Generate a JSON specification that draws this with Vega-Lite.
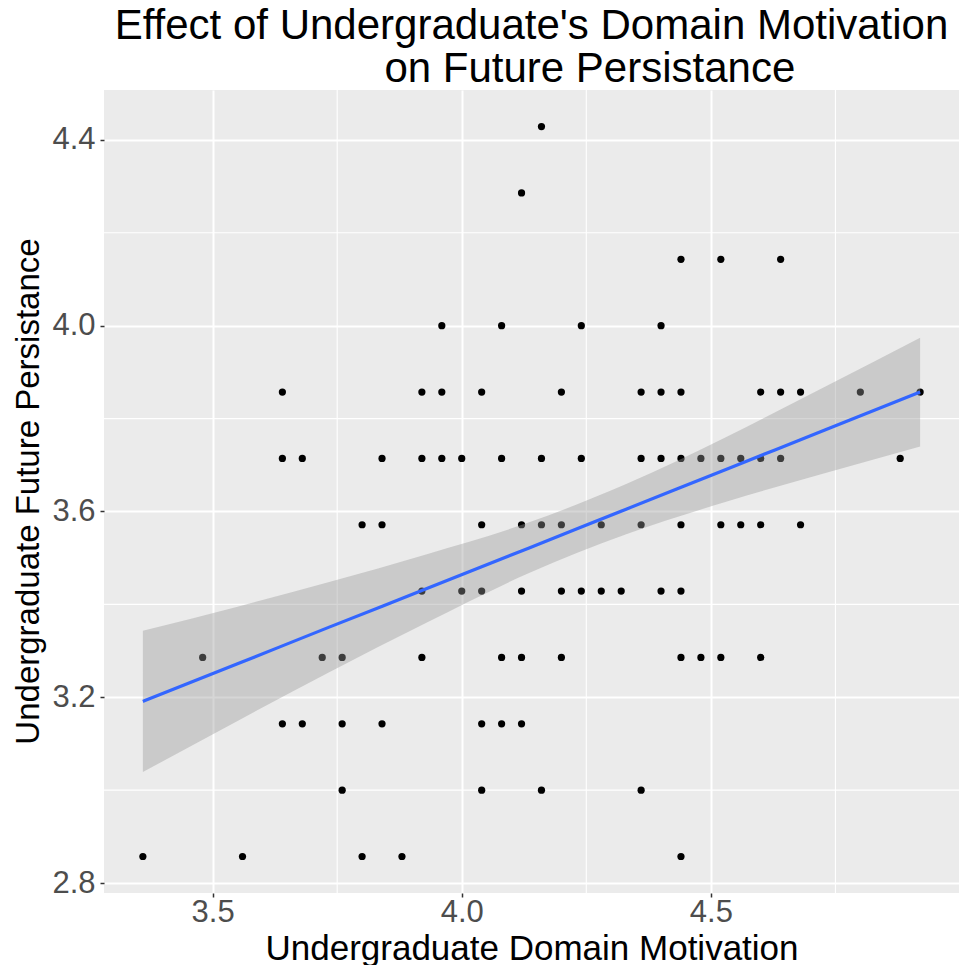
{
  "$schema": "https://vega.github.io/schema/vega-lite/v6.json",
  "width": 855,
  "height": 803,
  "autosize": {"type": "none"},
  "padding": {"left": 104, "top": 90, "right": 0, "bottom": 72},
  "background": "white",
  "config": {
    "view": {"fill": "#EBEBEB", "stroke": null},
    "font": "Liberation Sans"
  },
  "title": {
    "text": ["Effect of Undergraduate's Domain Motivation", "\u200b\u00a0\u200b\u00a0\u200b\u00a0\u200b\u00a0\u200b\u00a0\u200b\u00a0\u200b\u00a0\u200b\u00a0\u200b\u00a0\u200b\u00a0on Future Persistance"],
    "fontSize": 42,
    "font": "Liberation Sans",
    "fontWeight": "normal",
    "color": "black",
    "anchor": "middle",
    "frame": "group",
    "lineHeight": 43,
    "offset": -2
  },
  "datasets": {
    "pts": [
      {"x": 4.16, "y": 4.428571},
      {"x": 4.12, "y": 4.285714},
      {"x": 4.44, "y": 4.142857}, {"x": 4.52, "y": 4.142857}, {"x": 4.64, "y": 4.142857},
      {"x": 3.96, "y": 4.0}, {"x": 4.08, "y": 4.0}, {"x": 4.24, "y": 4.0}, {"x": 4.40, "y": 4.0},
      {"x": 3.64, "y": 3.857143}, {"x": 3.92, "y": 3.857143}, {"x": 3.96, "y": 3.857143}, {"x": 4.04, "y": 3.857143},
      {"x": 4.20, "y": 3.857143}, {"x": 4.36, "y": 3.857143}, {"x": 4.40, "y": 3.857143}, {"x": 4.44, "y": 3.857143},
      {"x": 4.60, "y": 3.857143}, {"x": 4.64, "y": 3.857143}, {"x": 4.68, "y": 3.857143}, {"x": 4.80, "y": 3.857143},
      {"x": 4.92, "y": 3.857143},
      {"x": 3.64, "y": 3.714286}, {"x": 3.68, "y": 3.714286}, {"x": 3.84, "y": 3.714286}, {"x": 3.92, "y": 3.714286},
      {"x": 3.96, "y": 3.714286}, {"x": 4.00, "y": 3.714286}, {"x": 4.08, "y": 3.714286}, {"x": 4.16, "y": 3.714286},
      {"x": 4.24, "y": 3.714286}, {"x": 4.36, "y": 3.714286}, {"x": 4.40, "y": 3.714286}, {"x": 4.44, "y": 3.714286},
      {"x": 4.48, "y": 3.714286}, {"x": 4.52, "y": 3.714286}, {"x": 4.56, "y": 3.714286}, {"x": 4.60, "y": 3.714286},
      {"x": 4.64, "y": 3.714286}, {"x": 4.88, "y": 3.714286},
      {"x": 3.80, "y": 3.571429}, {"x": 3.84, "y": 3.571429}, {"x": 4.04, "y": 3.571429}, {"x": 4.12, "y": 3.571429},
      {"x": 4.16, "y": 3.571429}, {"x": 4.20, "y": 3.571429}, {"x": 4.28, "y": 3.571429}, {"x": 4.36, "y": 3.571429},
      {"x": 4.44, "y": 3.571429}, {"x": 4.52, "y": 3.571429}, {"x": 4.56, "y": 3.571429}, {"x": 4.60, "y": 3.571429},
      {"x": 4.68, "y": 3.571429},
      {"x": 3.92, "y": 3.428571}, {"x": 4.00, "y": 3.428571}, {"x": 4.04, "y": 3.428571}, {"x": 4.12, "y": 3.428571},
      {"x": 4.20, "y": 3.428571}, {"x": 4.24, "y": 3.428571}, {"x": 4.28, "y": 3.428571}, {"x": 4.32, "y": 3.428571},
      {"x": 4.40, "y": 3.428571}, {"x": 4.44, "y": 3.428571},
      {"x": 3.48, "y": 3.285714}, {"x": 3.72, "y": 3.285714}, {"x": 3.76, "y": 3.285714}, {"x": 3.92, "y": 3.285714},
      {"x": 4.08, "y": 3.285714}, {"x": 4.12, "y": 3.285714}, {"x": 4.20, "y": 3.285714}, {"x": 4.44, "y": 3.285714},
      {"x": 4.48, "y": 3.285714}, {"x": 4.52, "y": 3.285714}, {"x": 4.60, "y": 3.285714},
      {"x": 3.64, "y": 3.142857}, {"x": 3.68, "y": 3.142857}, {"x": 3.76, "y": 3.142857}, {"x": 3.84, "y": 3.142857},
      {"x": 4.04, "y": 3.142857}, {"x": 4.08, "y": 3.142857}, {"x": 4.12, "y": 3.142857},
      {"x": 3.76, "y": 3.0}, {"x": 4.04, "y": 3.0}, {"x": 4.16, "y": 3.0}, {"x": 4.36, "y": 3.0},
      {"x": 3.36, "y": 2.857143}, {"x": 3.56, "y": 2.857143}, {"x": 3.80, "y": 2.857143}, {"x": 3.88, "y": 2.857143},
      {"x": 4.44, "y": 2.857143}
    ],
    "fit": [
      {"x": 3.36, "y": 3.191, "lo": 3.039, "hi": 3.343},
      {"x": 3.55, "y": 3.272, "lo": 3.149, "hi": 3.395},
      {"x": 3.734, "y": 3.351, "lo": 3.254, "hi": 3.448},
      {"x": 3.93, "y": 3.434, "lo": 3.361, "hi": 3.508},
      {"x": 4.134, "y": 3.521, "lo": 3.467, "hi": 3.576},
      {"x": 4.33, "y": 3.605, "lo": 3.551, "hi": 3.659},
      {"x": 4.534, "y": 3.692, "lo": 3.622, "hi": 3.762},
      {"x": 4.73, "y": 3.776, "lo": 3.683, "hi": 3.869},
      {"x": 4.92, "y": 3.857, "lo": 3.740, "hi": 3.974}
    ],
    "minx": [{"x": 3.75}, {"x": 4.25}, {"x": 4.75}],
    "miny": [{"y": 3.0}, {"y": 3.4}, {"y": 3.8}, {"y": 4.2}]
  },
  "layer": [
    {
      "data": {"name": "minx"},
      "mark": {"type": "rule", "color": "white", "strokeWidth": 1.1},
      "encoding": {
        "x": {
          "field": "x", "type": "quantitative",
          "scale": {"domain": [3.282, 4.998], "nice": false, "zero": false},
          "axis": {
            "title": "Undergraduate Domain Motivation",
            "values": [3.5, 4.0, 4.5], "format": ".1f",
            "grid": true, "gridColor": "white", "gridWidth": 2,
            "domain": false,
            "ticks": true, "tickColor": "#333333", "tickSize": 4, "tickWidth": 1.5,
            "labelFontSize": 31, "labelColor": "#4D4D4D", "labelPadding": 0, "labelFont": "Liberation Sans", "labelFlush": false,
            "titleFontSize": 35, "titleColor": "black", "titleFontWeight": "normal", "titleFont": "Liberation Sans",
            "titleBaseline": "alphabetic", "titleY": 66
          }
        }
      }
    },
    {
      "data": {"name": "miny"},
      "mark": {"type": "rule", "color": "white", "strokeWidth": 1.1},
      "encoding": {
        "y": {
          "field": "y", "type": "quantitative",
          "scale": {"domain": [2.7786, 4.5074], "nice": false, "zero": false},
          "axis": {
            "title": "Undergraduate Future Persistance",
            "values": [2.8, 3.2, 3.6, 4.0, 4.4], "format": ".1f",
            "grid": true, "gridColor": "white", "gridWidth": 2,
            "domain": false,
            "ticks": true, "tickColor": "#333333", "tickSize": 4, "tickWidth": 1.5,
            "labelFontSize": 31, "labelColor": "#4D4D4D", "labelPadding": 5, "labelFont": "Liberation Sans", "labelFlush": false,
            "titleFontSize": 33, "titleColor": "black", "titleFontWeight": "normal", "titleFont": "Liberation Sans",
            "titleBaseline": "alphabetic", "titleAlign": "center", "titleAngle": -90, "titleX": -66, "titleY": 401
          }
        }
      }
    },
    {
      "data": {"name": "pts"},
      "mark": {"type": "circle", "size": 52, "color": "black", "opacity": 1},
      "encoding": {
        "x": {
          "field": "x", "type": "quantitative",
          "scale": {"domain": [3.282, 4.998], "nice": false, "zero": false},
          "axis": {
            "title": "Undergraduate Domain Motivation",
            "values": [3.5, 4.0, 4.5], "format": ".1f",
            "grid": true, "gridColor": "white", "gridWidth": 2,
            "domain": false,
            "ticks": true, "tickColor": "#333333", "tickSize": 4, "tickWidth": 1.5,
            "labelFontSize": 31, "labelColor": "#4D4D4D", "labelPadding": 0, "labelFont": "Liberation Sans", "labelFlush": false,
            "titleFontSize": 35, "titleColor": "black", "titleFontWeight": "normal", "titleFont": "Liberation Sans",
            "titleBaseline": "alphabetic", "titleY": 66
          }
        },
        "y": {
          "field": "y", "type": "quantitative",
          "scale": {"domain": [2.7786, 4.5074], "nice": false, "zero": false},
          "axis": {
            "title": "Undergraduate Future Persistance",
            "values": [2.8, 3.2, 3.6, 4.0, 4.4], "format": ".1f",
            "grid": true, "gridColor": "white", "gridWidth": 2,
            "domain": false,
            "ticks": true, "tickColor": "#333333", "tickSize": 4, "tickWidth": 1.5,
            "labelFontSize": 31, "labelColor": "#4D4D4D", "labelPadding": 5, "labelFont": "Liberation Sans", "labelFlush": false,
            "titleFontSize": 33, "titleColor": "black", "titleFontWeight": "normal", "titleFont": "Liberation Sans",
            "titleBaseline": "alphabetic", "titleAlign": "center", "titleAngle": -90, "titleX": -66, "titleY": 401
          }
        }
      }
    },
    {
      "data": {"name": "fit"},
      "mark": {"type": "area", "color": "#999999", "opacity": 0.4, "interpolate": "monotone"},
      "encoding": {
        "x": {
          "field": "x", "type": "quantitative",
          "scale": {"domain": [3.282, 4.998], "nice": false, "zero": false},
          "axis": {
            "title": "Undergraduate Domain Motivation",
            "values": [3.5, 4.0, 4.5], "format": ".1f",
            "grid": true, "gridColor": "white", "gridWidth": 2,
            "domain": false,
            "ticks": true, "tickColor": "#333333", "tickSize": 4, "tickWidth": 1.5,
            "labelFontSize": 31, "labelColor": "#4D4D4D", "labelPadding": 0, "labelFont": "Liberation Sans", "labelFlush": false,
            "titleFontSize": 35, "titleColor": "black", "titleFontWeight": "normal", "titleFont": "Liberation Sans",
            "titleBaseline": "alphabetic", "titleY": 66
          }
        },
        "y": {
          "field": "lo", "type": "quantitative",
          "scale": {"domain": [2.7786, 4.5074], "nice": false, "zero": false},
          "axis": {
            "title": "Undergraduate Future Persistance",
            "values": [2.8, 3.2, 3.6, 4.0, 4.4], "format": ".1f",
            "grid": true, "gridColor": "white", "gridWidth": 2,
            "domain": false,
            "ticks": true, "tickColor": "#333333", "tickSize": 4, "tickWidth": 1.5,
            "labelFontSize": 31, "labelColor": "#4D4D4D", "labelPadding": 5, "labelFont": "Liberation Sans", "labelFlush": false,
            "titleFontSize": 33, "titleColor": "black", "titleFontWeight": "normal", "titleFont": "Liberation Sans",
            "titleBaseline": "alphabetic", "titleAlign": "center", "titleAngle": -90, "titleX": -66, "titleY": 401
          }
        },
        "y2": {"field": "hi"}
      }
    },
    {
      "data": {"name": "fit"},
      "mark": {"type": "line", "color": "#3366FF", "strokeWidth": 3.2, "interpolate": "monotone"},
      "encoding": {
        "x": {
          "field": "x", "type": "quantitative",
          "scale": {"domain": [3.282, 4.998], "nice": false, "zero": false},
          "axis": {
            "title": "Undergraduate Domain Motivation",
            "values": [3.5, 4.0, 4.5], "format": ".1f",
            "grid": true, "gridColor": "white", "gridWidth": 2,
            "domain": false,
            "ticks": true, "tickColor": "#333333", "tickSize": 4, "tickWidth": 1.5,
            "labelFontSize": 31, "labelColor": "#4D4D4D", "labelPadding": 0, "labelFont": "Liberation Sans", "labelFlush": false,
            "titleFontSize": 35, "titleColor": "black", "titleFontWeight": "normal", "titleFont": "Liberation Sans",
            "titleBaseline": "alphabetic", "titleY": 66
          }
        },
        "y": {
          "field": "y", "type": "quantitative",
          "scale": {"domain": [2.7786, 4.5074], "nice": false, "zero": false},
          "axis": {
            "title": "Undergraduate Future Persistance",
            "values": [2.8, 3.2, 3.6, 4.0, 4.4], "format": ".1f",
            "grid": true, "gridColor": "white", "gridWidth": 2,
            "domain": false,
            "ticks": true, "tickColor": "#333333", "tickSize": 4, "tickWidth": 1.5,
            "labelFontSize": 31, "labelColor": "#4D4D4D", "labelPadding": 5, "labelFont": "Liberation Sans", "labelFlush": false,
            "titleFontSize": 33, "titleColor": "black", "titleFontWeight": "normal", "titleFont": "Liberation Sans",
            "titleBaseline": "alphabetic", "titleAlign": "center", "titleAngle": -90, "titleX": -66, "titleY": 401
          }
        }
      }
    }
  ]
}
